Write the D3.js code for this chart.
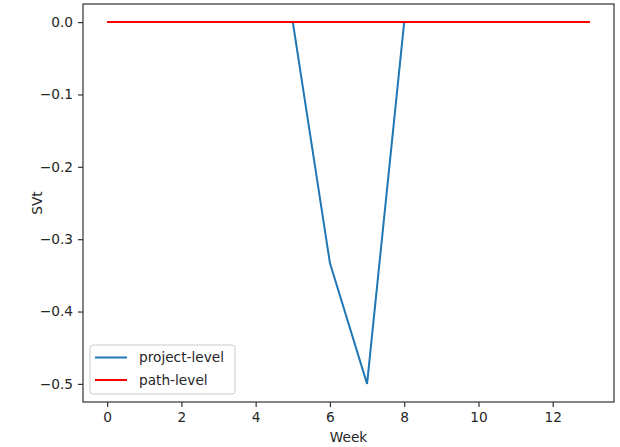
<!DOCTYPE html>
<html><head><meta charset="utf-8">
<script src="https://cdn.jsdelivr.net/npm/d3@7"></script>
<style>body{margin:0;background:#fff}svg{display:block}text{font-family:"DejaVu Sans",sans-serif;fill:#262626}</style>
</head><body>
<script>
const weeks = [0,1,2,3,4,5,6,7,8,9,10,11,12,13];
const projectLevel = [0,0,0,0,0,0,-0.333,-0.5,0,0,0,0,0,0];
const pathLevel = [0,0,0,0,0,0,0,0,0,0,0,0,0,0];
const xTicks = [0,2,4,6,8,10,12];
const yTicks = [0,-0.1,-0.2,-0.3,-0.4,-0.5];
const seriesNames = ["project-level","path-level"];
const colors = ["#1f77b4","#ff0000"];

const FS=13.7;
const W=620,H=447, L=83, R=614, T=4, B=402;
const svg=d3.select("body").append("svg").attr("width",W).attr("height",H);
const x=d3.scaleLinear().domain([-0.65,13.65]).range([L,R]);
const y=d3.scaleLinear().domain([-0.525,0.025]).range([B,T]);

const xa=svg.append("g").attr("transform",`translate(0,${B})`)
  .call(d3.axisBottom(x).tickValues(xTicks).tickFormat(d3.format("d")).tickSize(5).tickPadding(5));
const ya=svg.append("g").attr("transform",`translate(${L},0)`)
  .call(d3.axisLeft(y).tickValues(yTicks).tickFormat(d=>d3.format(".1f")(d).replace("-","\u2212")).tickSize(5).tickPadding(5));
[xa,ya].forEach(a=>{a.select(".domain").remove();a.selectAll("line").attr("stroke","#333").attr("stroke-width",1.2);
  a.selectAll("text").attr("font-size",FS).attr("fill","#262626").attr("font-family","DejaVu Sans");});

const line=d3.line().x((d,i)=>x(weeks[i])).y(d=>y(d));
svg.append("path").attr("d",line(projectLevel)).attr("fill","none").attr("stroke",colors[0]).attr("stroke-width",2);
svg.append("path").attr("d",line(pathLevel)).attr("fill","none").attr("stroke",colors[1]).attr("stroke-width",2);

svg.append("rect").attr("x",L).attr("y",T).attr("width",R-L).attr("height",B-T)
  .attr("fill","none").attr("stroke","#333").attr("stroke-width",1.2);

svg.append("text").attr("x",(L+R)/2).attr("y",442).attr("text-anchor","middle").attr("font-size",FS).text("Week");
svg.append("text").attr("transform",`translate(42,${(T+B)/2}) rotate(-90)`).attr("text-anchor","middle").attr("font-size",FS).text("SVt");

const lg=svg.append("g");
lg.append("rect").attr("x",90).attr("y",345).attr("width",145).attr("height",49).attr("rx",3)
  .attr("fill","#fff").attr("fill-opacity",0.8).attr("stroke","#ccc").attr("stroke-width",1);
seriesNames.forEach((n,i)=>{
  const yy=357.5+i*22.5;
  lg.append("line").attr("x1",95).attr("x2",127).attr("y1",yy).attr("y2",yy).attr("stroke",colors[i]).attr("stroke-width",2);
  lg.append("text").attr("x",139).attr("y",yy+4.8).attr("font-size",FS).text(n);
});
</script>
</body></html>
